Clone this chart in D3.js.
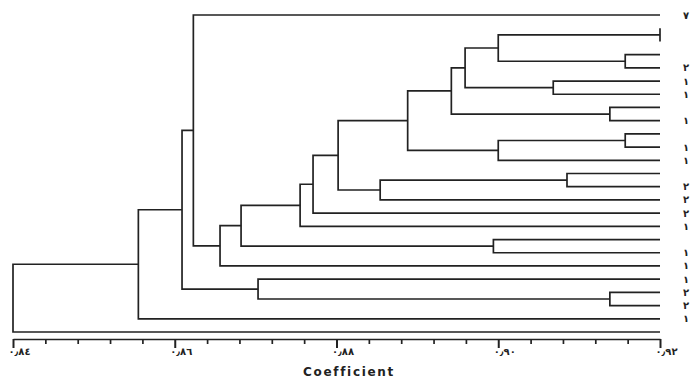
<!DOCTYPE html>
<html>
<head>
<meta charset="utf-8">
<script src="https://cdn.jsdelivr.net/npm/d3@7"></script>
<style>
  html, body { margin: 0; padding: 0; background: #fff; }
  svg { display: block; }
</style>
</head>
<body>
<div id="chart"></div>
<script>
// leaf labels, top to bottom (blank where the scan shows none)
const leafLabels = ['٧', '', '', '', '٢', '١', '١', '', '١', '', '١', '١', '', '٢', '٢', '٢', '١', '', '١', '١', '١', '٢', '٢', '١', '']

// merges: [childA, childB, coefficient]; numbers are leaves, 'n#' are earlier merges
const merges = [
  [1, 2, 0.92],
  [3, 4, 0.9157],
  ['n0', 'n1', 0.9],
  [5, 6, 0.9068],
  ['n2', 'n3', 0.8959],
  [7, 8, 0.9138],
  ['n4', 'n5', 0.8942],
  [9, 10, 0.9157],
  ['n7', 11, 0.9],
  ['n6', 'n8', 0.8888],
  [12, 13, 0.9085],
  ['n10', 14, 0.8854],
  ['n9', 'n11', 0.8802],
  ['n12', 15, 0.8771],
  ['n13', 16, 0.8755],
  [17, 18, 0.8994],
  ['n14', 'n15', 0.8682],
  ['n16', 19, 0.8656],
  [0, 'n17', 0.8623],
  [21, 22, 0.9138],
  [20, 'n19', 0.8703],
  ['n18', 'n20', 0.8609],
  ['n21', 23, 0.8555],
  ['n22', 24, 0.84]
]

const majorTicks = [0.84, 0.86, 0.88, 0.9, 0.92]
const tickLabels = ['٠٫٨٤', '٠٫٨٦', '٠٫٨٨', '٠٫٩٠', '٠٫٩٢']
const minorTicks = [0.844, 0.848, 0.852, 0.856, 0.864, 0.868, 0.872, 0.876,
  0.884, 0.888, 0.892, 0.896, 0.904, 0.908, 0.912, 0.916]
const axisTitle = 'Coefficient'

const width = 691
const height = 378
const ink = '#222'

const x = d3.scaleLinear().domain([0.84, 0.92]).range([13, 660])
const y = d3.scalePoint().domain(d3.range(leafLabels.length)).range([15, 332])

const svg = d3.select('#chart')
  .append('svg')
  .attr('width', width)
  .attr('height', height)

// resolve node positions
const nodes = {}
function pos(c) {
  if (typeof c === 'number') return { x: x(0.92), y: y(c) }
  return nodes[c]
}

const tree = svg.append('g')
  .attr('fill', 'none')
  .attr('stroke', ink)
  .attr('stroke-width', 1.7)

merges.forEach(([a, b, h], i) => {
  const pa = pos(a)
  const pb = pos(b)
  const nx = x(h)
  nodes['n' + i] = { x: nx, y: (pa.y + pb.y) / 2 }
  tree.append('path')
    .attr('d', `M${pa.x},${pa.y}H${nx}V${pb.y}H${pb.x}`)
})

// leaf labels
svg.append('g')
  .selectAll('text')
  .data(leafLabels)
  .join('text')
  .attr('x', 686)
  .attr('y', (d, i) => y(i))
  .attr('dy', '0.35em')
  .attr('text-anchor', 'middle')
  .attr('font-family', 'DejaVu Sans, sans-serif')
  .attr('font-size', 10)
  .attr('font-weight', 'bold')
  .attr('fill', ink)
  .text((d) => d)

// axis
const axisY = 339
const minorAxis = d3.axisBottom(x)
  .tickValues(minorTicks)
  .tickSize(5)
  .tickSizeOuter(0)
  .tickFormat('')
const majorAxis = d3.axisBottom(x)
  .tickValues(majorTicks)
  .tickSize(9)
  .tickSizeOuter(0)
  .tickFormat((d, i) => tickLabels[i])

svg.append('g')
  .attr('transform', `translate(0,${axisY})`)
  .call(minorAxis)
  .call((g) => g.selectAll('line, path').attr('stroke', ink).attr('stroke-width', 1.7))

const ax = svg.append('g')
  .attr('transform', `translate(0,${axisY})`)
  .call(majorAxis)
ax.select('.domain').remove()
ax.selectAll('line').attr('stroke', ink).attr('stroke-width', 2)
ax.selectAll('text')
  .attr('font-family', 'DejaVu Sans, sans-serif')
  .attr('font-size', 10)
  .attr('font-weight', 'bold')
  .attr('letter-spacing', 1.5)
  .attr('fill', ink)
  .attr('text-anchor', 'start')
  .attr('dx', -5)
  .attr('y', 9)

svg.append('text')
  .attr('x', 349)
  .attr('y', 376)
  .attr('text-anchor', 'middle')
  .attr('font-family', 'DejaVu Sans, sans-serif')
  .attr('font-size', 12)
  .attr('font-weight', 'bold')
  .attr('letter-spacing', 1.7)
  .attr('fill', ink)
  .text(axisTitle)
</script>
</body>
</html>
